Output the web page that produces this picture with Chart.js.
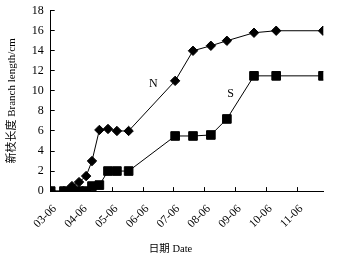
<!DOCTYPE html>
<html>
<head>
<meta charset="utf-8">
<script src="https://cdn.jsdelivr.net/npm/chart.js@4"></script>
<style>
    body { margin: 0; background: #fff; }
</style>
</head>
<body>
<canvas id="myChart" width="337" height="264"></canvas>
<script>
// Fechas en meses desde 03-06 (posición sobre el eje x)
const fechas = [0, 0.43, 0.69, 0.92, 1.15, 1.34, 1.58, 1.86, 2.15, 2.53, 4.04, 4.62, 5.2, 5.72, 6.6, 7.32, 8.84];
// Longitud de brotes (cm)
const serieN = [0, 0, 0.5, 0.9, 1.5, 3.0, 6.1, 6.2, 6.0, 6.0, 11.0, 14.0, 14.5, 15.0, 15.8, 16.0, 16.0];
const serieS = [0, 0, 0, 0, 0, 0.5, 0.6, 2, 2, 2, 5.5, 5.5, 5.6, 7.2, 11.5, 11.5, 11.5];
// Etiquetas del eje x
const meses = ['03-06', '04-06', '05-06', '06-06', '07-06', '08-06', '09-06', '10-06', '11-06'];
// Etiquetas de las series: [texto, x, y]
const etiquetas = [['N', 3.33, 10.7], ['S', 5.84, 9.74]];

const fuente = "'Liberation Serif', 'Noto Sans CJK SC', serif";

/* Plugin para escribir N y S junto a las curvas */
const textoSeries = {
    id: 'textoSeries',
    afterDatasetsDraw(chart) {
        const ctx = chart.ctx;
        const x = chart.scales.x, y = chart.scales.y;
        ctx.save();
        ctx.font = '12px ' + fuente;
        ctx.fillStyle = '#000';
        ctx.textAlign = 'center';
        ctx.textBaseline = 'middle';
        etiquetas.forEach(e => ctx.fillText(e[0], x.getPixelForValue(e[1]), y.getPixelForValue(e[2])));
        ctx.restore();
    }
};

const ctx = document.getElementById('myChart');
new Chart(ctx, {
    type: 'line',
    data: {
        datasets: [{
            label: 'S',
            data: fechas.map((f, i) => ({ x: f, y: serieS[i] })),
            borderColor: '#000',
            backgroundColor: '#000',
            borderWidth: 1,
            pointStyle: 'rect',
            pointRadius: 6.1,
            tension: 0
        },
        {
            label: 'N',
            data: fechas.map((f, i) => ({ x: f, y: serieN[i] })),
            borderColor: '#000',
            backgroundColor: '#000',
            borderWidth: 1,
            pointStyle: 'rectRot',
            pointRadius: 4.7,
            tension: 0
        }]
    },
    options: {
        responsive: false,
        animation: false,
        layout: { padding: { left: 4, right: 0, top: 10.7, bottom: 0 } },
        plugins: {
            legend: { display: false },
            tooltip: { enabled: false },
            title: {
                display: true,
                position: 'bottom',
                text: '日期 Date',
                color: '#000',
                font: { family: fuente, size: 10.5, weight: 'normal' },
                padding: { top: 5, bottom: 8 }
            }
        },
        scales: {
            x: {
                type: 'linear',
                min: 0,
                max: 8.85,
                border: { color: '#000', width: 1 },
                grid: { drawOnChartArea: false, drawTicks: true, tickLength: -4, color: '#000' },
                ticks: {
                    stepSize: 1,
                    includeBounds: false,
                    autoSkip: false,
                    minRotation: 45,
                    maxRotation: 45,
                    padding: 15,
                    labelOffset: 4,
                    color: '#000',
                    font: { family: fuente, size: 11.5 },
                    callback: value => meses[value]
                },
                afterFit: scale => { scale.height = 47.3; }
            },
            y: {
                min: 0,
                max: 18,
                border: { color: '#000', width: 1 },
                grid: { drawOnChartArea: false, drawTicks: true, tickLength: -4, color: '#000' },
                ticks: {
                    stepSize: 2,
                    padding: 11,
                    color: '#000',
                    font: { family: fuente, size: 12 }
                },
                title: {
                    display: true,
                    text: '新枝长度 Branch length/cm',
                    color: '#000',
                    font: { family: fuente, size: 11 },
                    padding: { top: 2, bottom: 0 }
                },
                afterFit: scale => {
                    scale.width = 46.7;
                    // el padding de las etiquetas no debe bajar el área del gráfico
                    scale.paddingTop = 0;
                    scale.paddingBottom = 0;
                }
            },
            // eje vacío para dejar margen a la derecha
            margen: {
                position: 'right',
                display: true,
                grid: { display: false },
                border: { display: false },
                ticks: { display: false },
                afterFit: scale => { scale.width = 13.7; }
            }
        }
    },
    plugins: [textoSeries]
});
</script>
</body>
</html>
